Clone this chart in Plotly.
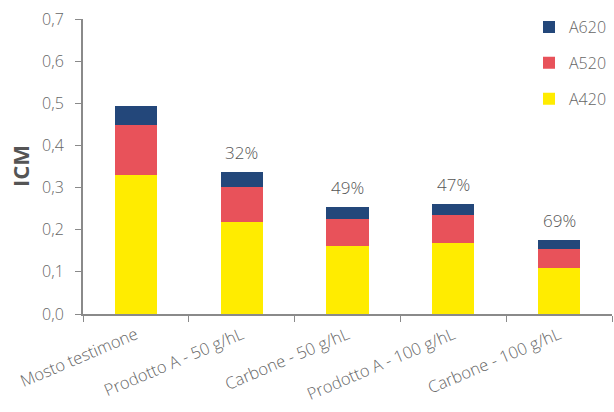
import plotly.graph_objects as go

# Colour-intensity components per treatment
categories = ["Mosto testimone", "Prodotto A - 50 g/hL", "Carbone - 50 g/hL",
              "Prodotto A - 100 g/hL", "Carbone - 100 g/hL"]
a420 = [0.330, 0.218, 0.161, 0.168, 0.108]
a520 = [0.119, 0.083, 0.064, 0.066, 0.046]
a620 = [0.045, 0.036, 0.030, 0.028, 0.022]
reduction_labels = ["", "32%", "49%", "47%", "69%"]

FONT = "Open Sans"
GREY_TXT = "#666666"
AXIS = "#8a8a8a"

fig = go.Figure()
# stacked bottom to top; legend lists them top to bottom
series = [("A420", a420, "#ffec00", 3), ("A520", a520, "#e8525a", 2), ("A620", a620, "#23477a", 1)]
for name, vals, col, rank in series:
    fig.add_trace(go.Bar(
        x=categories, y=vals, name=name, legendgroup=name, legendrank=rank,
        marker=dict(color=col, line=dict(width=0)),
    ))

totals = [a + b + c for a, b, c in zip(a420, a520, a620)]
for cat, tot, lab in zip(categories, totals, reduction_labels):
    if lab:
        fig.add_annotation(x=cat, y=tot, text=lab, showarrow=False,
                           yanchor="bottom", yshift=6,
                           font=dict(family=FONT, size=17, color="#555555", weight=300))

# y-axis title
fig.add_annotation(text="<b>ICM</b>", xref="paper", yref="paper", x=-0.12, y=0.5,
                   xanchor="center", yanchor="middle", textangle=-90, showarrow=False,
                   font=dict(family=FONT, size=22, color="#555555"))

fig.update_layout(
    width=614, height=412,
    margin=dict(l=83, r=2, t=19, b=98),
    paper_bgcolor="white", plot_bgcolor="white",
    barmode="stack", bargap=0.6,
    separators=",.",
    font=dict(family=FONT, size=15, color=GREY_TXT, weight=300),
    showlegend=True,
    legend=dict(x=1.0, xanchor="right", y=1.03, yanchor="top",
                traceorder="grouped", tracegroupgap=12,
                font=dict(family=FONT, size=16, color=GREY_TXT, weight=300),
                bgcolor="rgba(0,0,0,0)"),
    xaxis=dict(
        showline=True, linecolor=AXIS, linewidth=2,
        ticks="outside", tickson="boundaries", ticklen=6, tickcolor=AXIS, tickwidth=1,
        tickangle=-23, ticklabelstandoff=3,
        tickfont=dict(family=FONT, size=16.5, color=GREY_TXT, weight=300),
        showgrid=False, zeroline=False,
    ),
    yaxis=dict(
        range=[0, 0.7], dtick=0.1, tickformat=".1f",
        showline=True, linecolor=AXIS, linewidth=2,
        ticks="outside", ticklen=6, tickcolor=AXIS, tickwidth=1,
        ticklabelstandoff=8,
        tickfont=dict(family=FONT, size=16, color=GREY_TXT, weight=300),
        showgrid=False, zeroline=False,
    ),
)

fig.write_html("out.html")
